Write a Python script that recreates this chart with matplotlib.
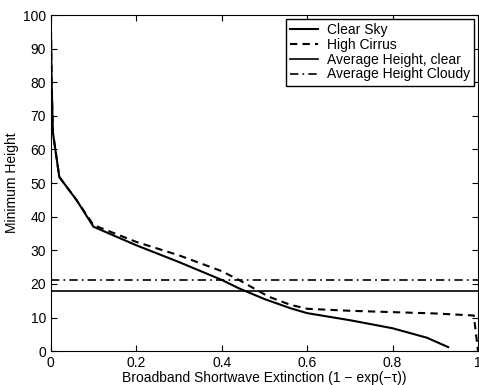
import matplotlib
matplotlib.use("Agg")
import matplotlib.pyplot as plt

plt.rcParams['font.family'] = ['Liberation Sans', 'DejaVu Sans']

# clear sky curve
clear_x = [0.0, 0.002, 0.005, 0.02, 0.06, 0.1, 0.2, 0.3, 0.4, 0.44, 0.5, 0.56, 0.6, 0.7, 0.8, 0.88, 0.93]
clear_y = [100, 80, 65, 51.8, 45, 37, 31.5, 26.5, 21.2, 18.7, 15.5, 12.8, 11.3, 9.2, 6.8, 4.0, 1.2]

# high cirrus curve
cirrus_x = [0.0, 0.002, 0.005, 0.02, 0.06, 0.1, 0.2, 0.3, 0.4, 0.44, 0.51, 0.56, 0.6, 0.7, 0.8, 0.9, 0.99, 1.0]
cirrus_y = [100, 80, 65, 51.8, 45, 37.5, 32.5, 28.5, 23.8, 21.2, 16.2, 13.8, 12.6, 12.0, 11.6, 11.2, 10.6, 0.0]

avg_clear = 17.8
avg_cloudy = 21.1

fig = plt.figure(figsize=(4.79, 3.85), dpi=100)
ax = fig.add_axes([0.106, 0.088, 0.892, 0.873])

ax.plot(clear_x, clear_y, 'k-', lw=1.5, label='Clear Sky')
ax.plot(cirrus_x, cirrus_y, color='k', ls=(0, (3.5, 2.5)), lw=1.5, label='High Cirrus')
ax.axhline(avg_clear, color='k', ls='-', lw=1.2, label='Average Height, clear')
ax.axhline(avg_cloudy, color='k', ls=(0, (5, 2.5, 1, 2.5)), lw=1.2, label='Average Height Cloudy')

ax.set_xlim(0, 1)
ax.set_ylim(0, 100)
ax.set_xticks([0, 0.2, 0.4, 0.6, 0.8, 1])
ax.set_xticklabels(['0', '0.2', '0.4', '0.6', '0.8', '1'])
ax.set_yticks(range(0, 101, 10))
ax.tick_params(direction='in', top=True, right=True, labelsize=10, length=4)
ax.set_xlabel('Broadband Shortwave Extinction (1 \u2212 exp(\u2212\u03c4))', fontsize=10, labelpad=1)
ax.set_ylabel('Minimum Height', fontsize=10, labelpad=3)

leg = ax.legend(loc='upper right', fontsize=10, frameon=True, fancybox=False,
                edgecolor='k', framealpha=1, handlelength=2.0, borderpad=0.3,
                labelspacing=0.05, borderaxespad=0.3, handletextpad=0.6)
leg.get_frame().set_linewidth(1.0)

fig.savefig('out.png', dpi=100)
